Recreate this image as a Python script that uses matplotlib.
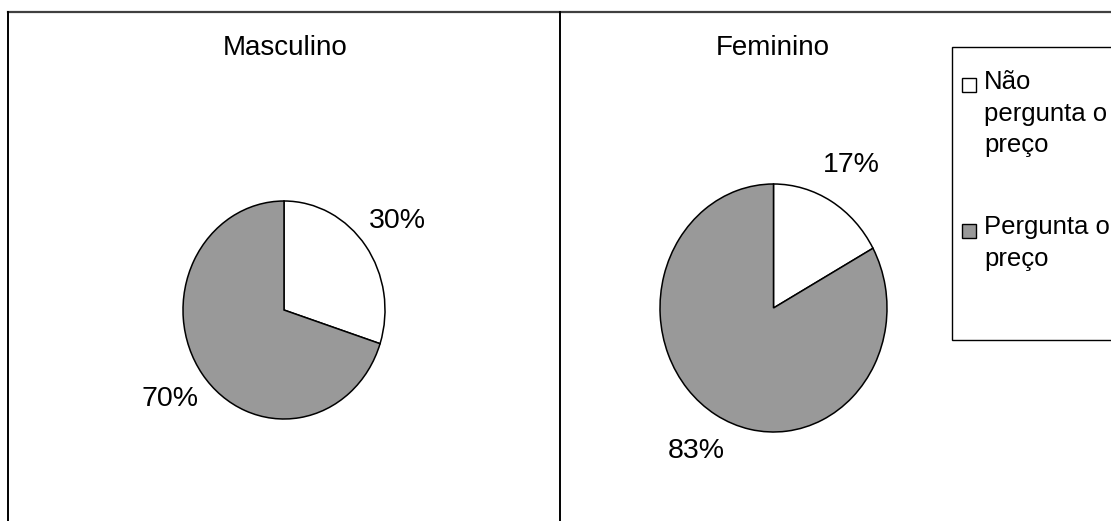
import matplotlib
matplotlib.use("Agg")
import matplotlib.pyplot as plt
from matplotlib.lines import Line2D
from matplotlib.patches import Rectangle

plt.rcParams['font.family'] = ['Liberation Sans', 'DejaVu Sans']

# data
groups = ['Masculino', 'Feminino']
categories = ['Não\npergunta o\npreço', 'Pergunta o\npreço']
masculino = [30, 70]
feminino = [17, 83]
colors = ['#ffffff', '#999999']

W, H = 1111, 521
fig = plt.figure(figsize=(W / 100, H / 100), dpi=100)

def px_axes(x0, y0, x1, y1):
    # pixel box (top-left origin) -> figure axes
    return fig.add_axes([x0 / W, 1 - y1 / H, (x1 - x0) / W, (y1 - y0) / H])

boxes = [(183, 201, 385, 419), (660, 184, 887, 432)]
title_x = [285, 773]
pct_dist = [1.39, 1.34]

for box, vals, name, tx, pd in zip(boxes, [masculino, feminino], groups, title_x, pct_dist):
    ax = px_axes(*box)
    ax.pie(vals, colors=colors, startangle=90, counterclock=False,
           autopct='%1.0f%%', pctdistance=pd,
           wedgeprops=dict(edgecolor='black', linewidth=1.1),
           textprops=dict(fontsize=20.5))
    ax.set_aspect('auto')
    ax.set_xlim(-1, 1)
    ax.set_ylim(-1, 1)
    fig.text(tx / W, 1 - 48 / H, name, ha='center', va='center', fontsize=20)

# frame lines
fig.add_artist(Line2D([8 / W, 1], [1 - 12 / H, 1 - 12 / H], color='#404040', lw=1.6))
fig.add_artist(Line2D([8 / W, 8 / W], [0, 1 - 12 / H], color='black', lw=1.4))
fig.add_artist(Line2D([560 / W, 560 / W], [0, 1 - 12 / H], color='black', lw=1.4))

# legend
fig.add_artist(Rectangle((952 / W, 1 - 340 / H), (W - 952) / W + 0.01, 293 / H,
                         facecolor='white', edgecolor='black', lw=1.0))
marker_y = [85, 231]
text_y = [70, 215]
for c, lab, my, ty in zip(colors, categories, marker_y, text_y):
    fig.add_artist(Rectangle((962 / W, 1 - (my + 7) / H), 14 / W, 14 / H,
                             facecolor=c, edgecolor='black', lw=1.0))
    fig.text(984 / W, 1 - ty / H, lab, ha='left', va='top', fontsize=18.5,
             linespacing=1.4)

fig.savefig('out.png', dpi=100)
